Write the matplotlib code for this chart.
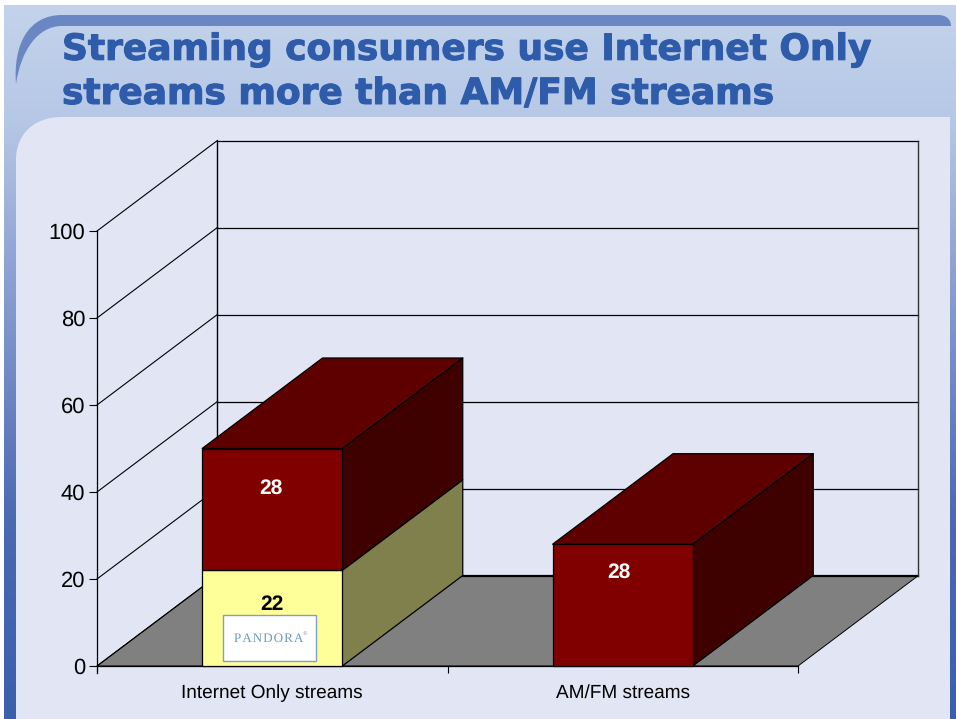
import numpy as np
import matplotlib
matplotlib.use("Agg")
import matplotlib.pyplot as plt
import matplotlib.patheffects as pe
from matplotlib.path import Path
from matplotlib.patches import PathPatch, Polygon, Rectangle
from matplotlib.colors import LinearSegmentedColormap

W, H = 956, 719
categories = ["Internet Only streams", "AM/FM streams"]
pandora = [22, 0]
other = [28, 28]
value_ticks = [0, 20, 40, 60, 80, 100]
title_lines = ["Streaming consumers use Internet Only", "streams more than AM/FM streams"]

plt.rcParams["text.hinting"] = "no_hinting"
plt.rcParams["text.hinting_factor"] = 1
fig = plt.figure(figsize=(W / 100, H / 100), dpi=100, facecolor="white")
plt.rcParams["font.family"] = ["Liberation Sans", "DejaVu Sans"]

# ---------- slide background (pixel coordinates) ----------
bg = fig.add_axes([0, 0, 1, 1], zorder=0)
bg.set_xlim(0, W); bg.set_ylim(H, 0); bg.axis("off")
cmap = LinearSegmentedColormap.from_list("band", [
    (0.00, "#c3d3eb"), (0.16, "#b6c8e6"), (0.33, "#95a9d7"),
    (0.55, "#6a85c3"), (0.72, "#4a6ab2"), (1.00, "#3a60ac")])
grad = np.linspace(0, 1, 256).reshape(-1, 1)
bg.imshow(grad, cmap=cmap, extent=(4, W, H, 5), aspect="auto", zorder=0, vmin=0, vmax=1)
bg.set_xlim(0, W); bg.set_ylim(H, 0)

panel = Path(
    [(16, H), (16, 160), (16, 133), (35, 117), (62, 117), (950, 117), (950, H), (16, H)],
    [Path.MOVETO, Path.LINETO, Path.CURVE4, Path.CURVE4, Path.CURVE4, Path.LINETO, Path.LINETO, Path.CLOSEPOLY])
bg.add_patch(PathPatch(panel, fc="#e1e5f4", ec="none", zorder=1))

stripe = Path(
    [(16, 84), (13, 45), (28, 15), (62, 15), (938, 15), (947, 15), (951, 20), (951, 26),
     (62, 26), (38, 26), (21, 50), (16, 84), (16, 84)],
    [Path.MOVETO, Path.CURVE4, Path.CURVE4, Path.CURVE4, Path.LINETO, Path.CURVE4, Path.CURVE4, Path.CURVE4,
     Path.LINETO, Path.CURVE4, Path.CURVE4, Path.CURVE4, Path.CLOSEPOLY])
bg.add_patch(PathPatch(stripe, fc="#6b87c3", ec="none", zorder=1))

for txt, y in zip(title_lines, [50, 94]):
    bg.text(62, y, txt, family="DejaVu Sans", weight="bold", fontsize=25.9, color="#2f5bab",
            ha="left", va="center", zorder=2,
            path_effects=[pe.withStroke(linewidth=0.8, foreground="#2f5bab")])

# ---------- chart ----------
ax = fig.add_axes([97 / W, 1 - 666 / H, (798 - 97) / W, (666 - 231) / H], zorder=1)
ax.patch.set_alpha(0)
ax.set_xlim(0, 2); ax.set_ylim(0, 100)
DX = 120.4 / 350.5   # depth in x data units
DY = 90.5 / 4.35     # depth in y data units
BW = 0.40

# walls and floor
ax.add_patch(Polygon([(0, 0), (2, 0), (2 + DX, DY), (DX, DY)], closed=True,
                     fc="#808080", ec="black", lw=0.7, clip_on=False, zorder=1))
for v in value_ticks:
    ax.plot([0, DX], [v, v + DY], color="black", lw=0.8, clip_on=False, zorder=1.5)
    ax.plot([DX, 2 + DX], [v + DY, v + DY], color="black",
            lw=1.6 if v == 0 else 0.9, clip_on=False, zorder=1.5)
top = value_ticks[-1] + DY
ax.plot([DX, DX], [DY, top], color="black", lw=1.0, clip_on=False, zorder=1.5)
ax.plot([2 + DX, 2 + DX], [DY, top], color="#333333", lw=1.0, clip_on=False, zorder=1.5)


def box(x, y0, y1, front, side, topc=None, z=3.0):
    l, r = x - BW / 2, x + BW / 2
    kw = dict(closed=True, ec="black", lw=0.9, clip_on=False, zorder=z, joinstyle="round")
    ax.add_patch(Polygon([(r, y0), (r + DX, y0 + DY), (r + DX, y1 + DY), (r, y1)], fc=side, **kw))
    if topc:
        ax.add_patch(Polygon([(l, y1), (r, y1), (r + DX, y1 + DY), (l + DX, y1 + DY)], fc=topc, **kw))
    ax.add_patch(Rectangle((l, y0), BW, y1 - y0, fc=front, ec="black", lw=0.9, clip_on=False, zorder=z + 0.1))


centers = [0.5, 1.5]
label_offsets = {(0, "p"): (0, 14), (0, "o"): (-1.5, 21), (1, "o"): (-4, 33)}
for i, (c, p, o) in enumerate(zip(centers, pandora, other)):
    if p:
        box(c, 0, p, "#ffff99", "#80804d", z=3.0)
        ax.annotate(str(p), (c, p / 2), xytext=label_offsets[(i, "p")], textcoords="offset pixels",
                    ha="center", va="center", weight="bold", fontsize=15, color="black", zorder=5)
    box(c, p, p + o, "#800000", "#3f0000", "#5e0000", z=3.2)
    ax.annotate(str(o), (c, p + o / 2), xytext=label_offsets[(i, "o")], textcoords="offset pixels",
                ha="center", va="center", weight="bold", fontsize=15, color="white", zorder=5)

# axes furniture
for s in ["top", "right"]:
    ax.spines[s].set_visible(False)
ax.spines["left"].set_bounds(-1.5, 100)
ax.spines["left"].set_linewidth(0.9)
ax.spines["bottom"].set_linewidth(0.9)
ax.set_yticks(value_ticks)
ax.tick_params(axis="y", length=5.5, width=0.8, labelsize=15.8, pad=3)
ax.set_xticks([0, 1, 2]); ax.set_xticklabels([])
ax.tick_params(axis="x", which="major", length=5, width=0.8)
ax.set_xticks(centers, minor=True)
ax.set_xticklabels(categories, minor=True, fontsize=13.75)
ax.tick_params(axis="x", which="minor", length=0, pad=13)

# ---------- PANDORA logo tile ----------
ov = fig.add_axes([0, 0, 1, 1], zorder=2)
ov.set_xlim(0, W); ov.set_ylim(H, 0); ov.axis("off"); ov.patch.set_alpha(0)
ov.add_patch(Rectangle((223, 615), 93, 46, fc="white", ec="#7f9fc9", lw=1.0))
ov.text(268.5, 638.5, "\u200a".join("PANDORA"), family="Liberation Serif", fontsize=9.6, color="#6a9ac4",
        ha="center", va="center")
ov.text(305, 634, "®", family="Liberation Serif", fontsize=4, color="#6a9ac4", ha="center", va="center")

fig.savefig("out.png", dpi=100)
